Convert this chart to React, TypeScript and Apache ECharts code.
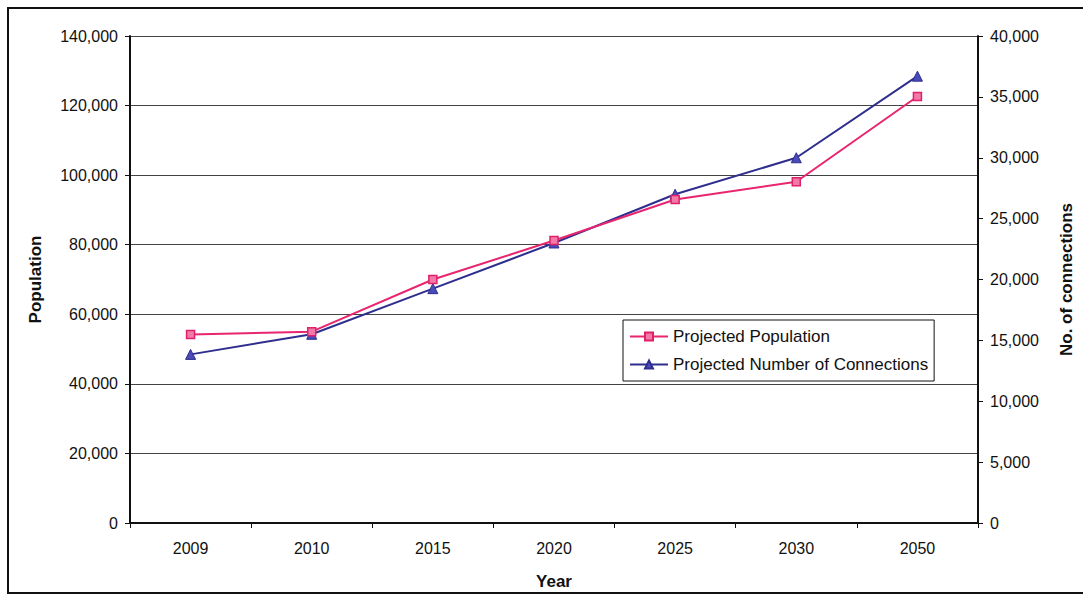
import React, { useEffect, useRef } from "react";
import * as echarts from "echarts";

const years = ["2009", "2010", "2015", "2020", "2025", "2030", "2050"];
const population = [54200, 55000, 70000, 81200, 93000, 98100, 122600];
const connections = [13850, 15500, 19250, 23000, 27000, 30000, 36700];

export default function App() {
  const ref = useRef<HTMLDivElement>(null);
  useEffect(() => {
    const chart = echarts.init(ref.current!, null, { renderer: "svg" });
    const font = "'Liberation Sans', Arial, sans-serif";
    const nameStyle = { fontFamily: font, fontSize: 17, fontWeight: "bold", color: "#111" };
    chart.setOption({
      animation: false,
      backgroundColor: "#ffffff",
      textStyle: { fontFamily: font },
      graphic: [
        {
          type: "rect",
          shape: { x: 8, y: 8, width: 1085, height: 585 },
          style: { fill: "none", stroke: "#111", lineWidth: 2 },
        },
      ],
      grid: { left: 130, right: 98, top: 36, bottom: 73 },
      legend: {
        left: 623,
        top: 320,
        orient: "vertical",
        borderColor: "#111",
        borderWidth: 1,
        padding: [8, 6, 8, 6],
        itemGap: 11,
        itemWidth: 38,
        itemHeight: 10,
        textStyle: { fontFamily: font, fontSize: 17, color: "#111" },
        data: ["Projected Population", "Projected Number of Connections"],
      },
      xAxis: {
        type: "category",
        data: years,
        boundaryGap: true,
        name: "Year",
        nameLocation: "middle",
        nameGap: 50,
        nameTextStyle: nameStyle,
        axisLine: { lineStyle: { color: "#111", width: 2 } },
        axisTick: { show: true, alignWithLabel: false, length: 5, lineStyle: { color: "#111" } },
        axisLabel: { margin: 17, fontSize: 16, color: "#111", fontFamily: font },
      },
      yAxis: [
        {
          type: "value",
          min: 0,
          max: 140000,
          interval: 20000,
          name: "Population",
          nameLocation: "middle",
          nameGap: 86,
          nameRotate: 90,
          nameTextStyle: nameStyle,
          axisLine: { show: true, lineStyle: { color: "#111", width: 2 } },
          axisTick: { show: true, length: 5, lineStyle: { color: "#111" } },
          axisLabel: {
            margin: 12,
            fontSize: 16,
            color: "#111",
            fontFamily: font,
            formatter: (v: number) => v.toLocaleString("en-US"),
          },
          splitLine: { show: true, lineStyle: { color: "#444", width: 1 } },
        },
        {
          type: "value",
          min: 0,
          max: 40000,
          interval: 5000,
          name: "No. of connections",
          nameLocation: "middle",
          nameGap: 80,
          nameRotate: 90,
          nameTextStyle: nameStyle,
          axisLine: { show: true, lineStyle: { color: "#111", width: 2 } },
          axisTick: { show: true, length: 5, lineStyle: { color: "#111" } },
          axisLabel: {
            margin: 12,
            fontSize: 16,
            color: "#111",
            fontFamily: font,
            formatter: (v: number) => v.toLocaleString("en-US"),
          },
          splitLine: { show: false },
        },
      ],
      series: [
        {
          name: "Projected Population",
          type: "line",
          yAxisIndex: 0,
          data: population,
          symbol: "rect",
          symbolSize: 8,
          lineStyle: { color: "#e8256e", width: 2 },
          itemStyle: { color: "#f27aa8", borderColor: "#e0206a", borderWidth: 1.5 },
          color: "#e8256e",
          z: 3,
        },
        {
          name: "Projected Number of Connections",
          type: "line",
          yAxisIndex: 1,
          data: connections,
          symbol: "triangle",
          symbolSize: 10,
          lineStyle: { color: "#2e2e8e", width: 2 },
          itemStyle: { color: "#4a4ab8", borderColor: "#2e2e8e", borderWidth: 1 },
          color: "#2e2e8e",
          z: 2,
        },
      ],
    });
    return () => chart.dispose();
  }, []);
  return (
    <div
      ref={ref}
      style={{ position: "fixed", left: 0, top: 0, width: 1083, height: 596 }}
    />
  );
}
